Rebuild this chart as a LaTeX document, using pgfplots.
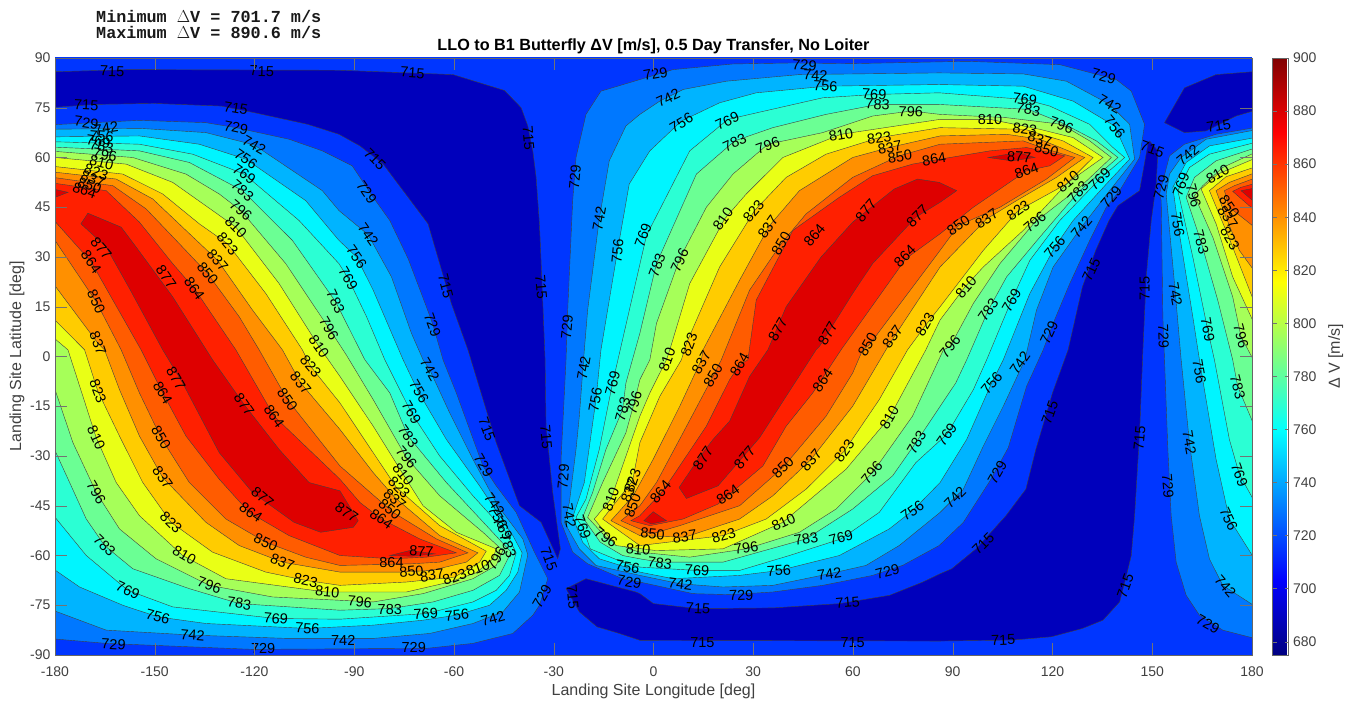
\documentclass[border=0pt]{standalone}
\usepackage{pgfplots}
\pgfplotsset{compat=1.18}
\usepackage{fontspec}
\setmainfont{Liberation Sans}
\newfontfamily\monof{Liberation Mono}
\definecolor{c688}{HTML}{0000BC}
\definecolor{c715}{HTML}{0036FF}
\definecolor{c729}{HTML}{0078FF}
\definecolor{c742}{HTML}{00B4FF}
\definecolor{c756}{HTML}{00F5FF}
\definecolor{c769}{HTML}{2BFFD4}
\definecolor{c783}{HTML}{6BFF94}
\definecolor{c796}{HTML}{A6FF59}
\definecolor{c810}{HTML}{E9FF16}
\definecolor{c823}{HTML}{FFCC00}
\definecolor{c837}{HTML}{FF9000}
\definecolor{c850}{HTML}{FF5C00}
\definecolor{c864}{HTML}{FF2000}
\definecolor{c877}{HTML}{DE0000}
\definecolor{axgray}{HTML}{404040}
\pgfplotsset{lev/.style={fill=#1,draw=black!75,line width=0.4pt}}
\newcommand{\CL}[4]{\node[rotate=#3,inner sep=0pt,text=black,font=\fontsize{14.5}{14.5}\selectfont] at (axis cs:#1,#2) {#4};}
\begin{document}
\begin{tikzpicture}
\path[use as bounding box] (0,0) rectangle (1348pt,704pt);
\begin{axis}[
  at={(55pt,49pt)},anchor=south west,
  scale only axis,width=1197pt,height=597pt,
  xmin=-180,xmax=180,ymin=-90,ymax=90,
  xtick={-180,-150,...,180},ytick={-90,-75,...,90},
  tick align=inside,major tick length=12pt,
  tick style={black!55,line width=0.4pt},
  axis line style={black!60,line width=0.6pt},
  axis on top,
  /pgf/number format/assume math mode=true,
  ticklabel style={text=axgray,font=\fontsize{14}{16}\selectfont},
  xticklabel style={yshift=-8pt},
  yticklabel style={xshift=-1pt},
  xlabel={Landing Site Longitude [deg]},
  ylabel={Landing Site Latitude [deg]},
  label style={text=axgray,font=\fontsize{16}{18}\selectfont},
  xlabel style={at={(axis description cs:0.5,0)},anchor=center,yshift=-36.5pt},
  ylabel style={at={(axis description cs:0,0.5)},anchor=center,yshift=38pt},
  title={LLO to B1 Butterfly ΔV [m/s], 0.5 Day Transfer, No Loiter},
  title style={at={(axis description cs:0.5,1)},anchor=south,yshift=-5pt,font=\bfseries\fontsize{16.2}{18}\selectfont,text=black},
  colormap/jet,point meta min=675,point meta max=900,
  colorbar,
  colorbar style={
    at={(parent axis.north east)},anchor=north west,xshift=12pt,
    width=16pt,
    ytick={680,700,...,900},
    tick align=inside,major tick length=4pt,
    tick style={black!55,line width=0.4pt},
    axis line style={black!60,line width=0.6pt},
    yticklabel pos=right,
    yticklabel style={text=axgray,xshift=1pt,font=\fontsize{14}{16}\selectfont,/pgf/number format/assume math mode=true,/pgf/number format/1000 sep={}},
    ylabel={Δ V [m/s]},
    ylabel style={text=axgray,font=\fontsize{16}{18}\selectfont,yshift=-5pt},
  },
]
% base band
\addplot[fill=c715,draw=none] coordinates {(-182,-92)(182,-92)(182,92)(-182,92)} --cycle;
% islands below 715
\addplot[lev=c688] coordinates {(-182,85.8)(-157.6,86.5)(-94.3,86.3)(-60.3,85)(-44.8,80.2)(-39.8,75)(-37.8,69.5)(-36.3,62)(-35.3,54)(-34.3,40)(-33.6,24)(-32.6,-1)(-32.3,-21)(-30.3,-41)(-29.1,-50)(-28,-58)(-28.8,-61)(-33.8,-50)(-40.3,-45)(-47.3,-26)(-55.8,2)(-60.8,16)(-67.8,40)(-73.8,48)(-81.3,58)(-88.3,63.5)(-94.6,67)(-104,70)(-120,73.5)(-130,75.5)(-150,76.3)(-168,76)(-182,75)} --cycle;
\addplot[lev=c688] coordinates {(-26.3,-70)(-20.3,-67)(-5.3,-71)(-4.1,-71.5)(0,-74.5)(13,-76)(36,-75.8)(56,-74.5)(71,-72)(81,-68)(86.2,-65.5)(89.7,-64)(97,-58)(106,-48)(112,-40)(115,-28)(120,-11)(124.7,2)(129,21)(133,32)(137,41)(139.7,45.5)(146.2,50)(148.7,64)(149.2,65)(151.7,62)(151.2,52)(149.7,41)(148.2,24)(147.2,2)(146.2,-23)(144.7,-48)(143.7,-60)(142,-67)(140.2,-74)(135.2,-79.5)(129,-82)(119.7,-84.5)(108,-85.5)(86,-85.8)(-4,-85.6)(-10.3,-83.5)(-17,-81.5)(-22.3,-77)} --cycle;
\addplot[lev=c688] coordinates {(153.7,70.5)(159.7,81)(169.2,85)(182,86)(182,74.5)(175.2,72.5)(166.2,68)(159.7,67.5)} --cycle;
% level 729
\addplot[lev=c729] coordinates {(-182,69.8)(-154.6,71.2)(-134.6,70.5)(-125.6,69)(-109.6,65.5)(-99.6,62)(-90.6,57.5)(-84.3,48)(-79.3,41)(-73.8,29.5)(-68.3,15)(-66.3,9.5)(-63.3,-1)(-59.3,-11)(-51.3,-33)(-47.3,-39)(-41.3,-47)(-35.8,-59)(-31.8,-67)(-34.3,-75)(-36.3,-78)(-42.3,-83.5)(-54.3,-86.5)(-68.3,-88)(-120.6,-88.3)(-164.6,-86.5)(-182,-85)} --cycle;
\addplot[lev=c729] coordinates {(-15.8,80)(-20.3,73)(-23.3,60)(-24.3,47)(-25.8,14)(-26.3,-1)(-27.8,-31)(-27.8,-50)(-24.3,-59)(-19.8,-62.5)(-9.3,-67)(-4.1,-68)(11.9,-71.5)(22.9,-71.8)(35.9,-71)(50.9,-69)(65.9,-66)(74.9,-63)(85.9,-57)(93.2,-50)(101.2,-37.5)(106.7,-27.5)(112.2,-9)(117.2,2)(120.2,10)(125.2,22)(131.2,35)(136.2,45)(140.2,50)(146.2,60)(147.7,70)(143.7,80)(139.2,83.5)(122.2,88)(94.2,89)(59.9,88.3)(41.9,88.5)(23.9,88.2)(5.9,86.5)(-4.1,83.5)} --cycle;
\addplot[lev=c729] coordinates {(182,69.2)(169.2,67)(159.7,64)(155.2,60.5)(152.2,49)(152.7,47)(153.2,12)(153.7,-1)(154.7,-28)(155.7,-48)(157.2,-62)(160.2,-72)(164.2,-78)(171.2,-82.5)(182,-85.3)} --cycle;
% level 742
\addplot[lev=c742] coordinates {(-182,68.5)(-154.6,68.8)(-134.6,67.5)(-120.1,63.8)(-99.6,50)(-94.6,44)(-85.8,36.7)(-78.8,24)(-72.8,7)(-69.3,-1)(-67.3,-4)(-61.3,-17)(-54.3,-31)(-46.8,-45)(-39.3,-55)(-37.8,-59.8)(-40.3,-71)(-45.3,-77)(-54.3,-80.5)(-67.3,-83.5)(-84.3,-85)(-110,-85)(-138.6,-84)(-164.6,-82.5)(-182,-76)} --cycle;
\addplot[lev=c742] coordinates {(-8.3,69.5)(-4.1,73)(1.9,77)(8.9,80.5)(21.9,83)(43.9,85)(85.9,85.5)(111.2,85.2)(124.2,83)(137.2,76)(143.2,70)(144.7,59.5)(137.2,50)(128.7,39)(120.2,27)(115.2,14)(111.7,-1)(105.2,-15)(99.2,-27)(93.2,-40)(90.7,-42.5)(86.2,-47)(73.9,-57)(63.9,-63)(52.9,-65.5)(35.9,-69)(20.9,-69.5)(7.9,-68.5)(-4.1,-66)(-17.3,-63)(-22.3,-58)(-26.8,-50)(-25.3,-44)(-23.3,-28)(-22.3,-18)(-20.8,2)(-19.8,14)(-16.3,41.5)(-13.3,59)} --cycle;
\addplot[lev=c742] coordinates {(182,68.5)(166.2,65.5)(158.7,60)(155.2,55)(154.2,49)(156.7,22)(158.7,-1)(161.2,-26)(164.2,-48)(167.2,-61)(171.2,-69)(182,-76)} --cycle;
% level 756
\addplot[lev=c756] coordinates {(-182,66.2)(-154.6,66.5)(-136.6,64)(-122.6,59.5)(-104.6,47)(-94.6,35)(-89.3,30)(-84.3,20)(-75.3,-1)(-70.8,-10.5)(-62.3,-25)(-52.3,-39)(-42.3,-54)(-39.5,-59.2)(-40.8,-65)(-44.3,-70.5)(-49.3,-75)(-59.3,-78)(-69.3,-79.5)(-84.3,-81)(-104.1,-82)(-134.6,-80.5)(-149.1,-78.5)(-159.6,-75)(-172.6,-69.5)(-182,-63)} --cycle;
\addplot[lev=c756] coordinates {(-10.8,32)(-7.3,52)(-1.1,62)(8.4,71)(19.9,76.5)(30.9,79.5)(51.9,81.5)(85.9,82)(111.2,81.5)(126.2,77)(138.7,69.5)(143.2,59.5)(136.2,52)(126.2,41)(120.7,33)(113.2,19)(105.2,-1)(101.7,-8)(94.2,-25)(86.2,-38)(77.9,-46.5)(70.9,-52)(55.9,-60)(37.9,-64.5)(25.9,-66)(5.9,-67)(-4.1,-65)(-8.3,-63.5)(-16.3,-61)(-21.3,-56)(-24.3,-48.5)(-20.8,-38)(-17.3,-13)(-15.8,2)} --cycle;
\addplot[lev=c756] coordinates {(182,66.2)(167.2,63.5)(160.2,58.5)(156.2,51)(157.7,40)(162.2,12)(164.2,-1)(169.2,-31)(173.2,-49)(182,-63)} --cycle;
% level 769
\addplot[lev=c769] coordinates {(-182,64.8)(-154.6,64)(-138.6,61)(-123.1,55)(-106.6,41)(-94.6,28)(-91.8,23.5)(-86.3,12)(-80.8,-1)(-72.8,-17)(-64.3,-30)(-54.3,-42)(-44.3,-53)(-41.3,-59.2)(-43.3,-66)(-47.3,-70.5)(-54.3,-74)(-68.3,-77.5)(-94.3,-79.2)(-113.6,-79)(-144.6,-75.5)(-158.1,-70.5)(-170.6,-60)(-182,-46)} --cycle;
\addplot[lev=c769] coordinates {(-12.3,-8)(-2.1,36.5)(10.9,62)(22.4,71.5)(50.9,78)(66.4,79)(85.9,79.5)(111.7,77.5)(119.2,75.5)(131.2,70)(138.2,63)(141.7,60)(134.2,53.5)(122.2,41)(113.2,29)(107.7,17)(100.2,-1)(96.2,-10)(88.2,-23.5)(78.9,-32)(67.9,-47)(56.4,-55)(40.9,-60)(25.9,-64.5)(12.9,-64.5)(-4.1,-63.5)(-9.3,-62)(-19,-58)(-21.3,-51.5)(-23.3,-48.5)(-20.3,-43)(-16.3,-28)} --cycle;
\addplot[lev=c769] coordinates {(182,64.8)(167.2,61)(161.2,57)(157.7,50)(162.2,30)(166.7,8)(168.7,-1)(173.2,-25)(176.2,-35.5)(182,-46)} --cycle;
% level 783
\addplot[lev=c783] coordinates {(-182,63.2)(-154.6,62)(-139.6,58.5)(-123.6,50)(-108.6,35)(-95.6,16.5)(-86.8,-1)(-79.3,-11)(-73.8,-24)(-62.3,-38)(-49.3,-52)(-42.8,-59)(-46.3,-66)(-54.3,-70.5)(-66.3,-74)(-79.3,-76)(-94.3,-76.5)(-124.6,-74.5)(-139.6,-70)(-156.6,-64)(-165.1,-57)(-170.6,-49)(-175.6,-38)(-182,-24)} --cycle;
\addplot[lev=c783] coordinates {(-9.3,-16)(-8.3,-8)(-4.1,7)(0.9,28)(12.9,55)(24.4,65)(35.9,69)(51.9,73)(67.4,76)(85.9,76)(112.7,74.5)(122.7,70.5)(133.2,65)(139.7,60)(127.7,49.5)(116.2,36)(106.2,24)(100.7,14)(94.2,-1)(90.9,-8)(78.9,-26)(71.9,-36)(59.9,-46)(45.9,-55)(20.9,-62)(1.9,-62)(-4.1,-61)(-9.3,-60)(-16,-56)(-21.3,-48.5)(-18.3,-41)(-14.3,-28)} --cycle;
\addplot[lev=c783] coordinates {(182,63.2)(169.2,59)(162.7,54)(160.2,48)(164.7,34.5)(169.7,17)(174.2,-1)(175.7,-9)(182,-24)} --cycle;
% level 796
\addplot[lev=c796] coordinates {(-182,62)(-156.6,60)(-140.6,55)(-130.6,49)(-124.1,44)(-110.6,28)(-97.6,8.5)(-92.4,0.5)(-84.3,-13)(-74.3,-30.5)(-64.3,-42)(-51.3,-53)(-45.3,-58.5)(-47.3,-63)(-54.3,-67)(-69.3,-71.5)(-84.3,-74)(-114.6,-72.5)(-133.6,-69)(-149.6,-61)(-160.6,-52)(-167.6,-41)(-174.6,-26)(-182,-4)} --cycle;
\addplot[lev=c796] coordinates {(-5.8,-14)(-8.3,-23)(-15.3,-38)(-19.8,-48.5)(-14.3,-54.5)(-7.3,-58)(-4.1,-59)(10.9,-60.5)(27.9,-58)(43.9,-53)(54.9,-46)(65.9,-35)(77.9,-18)(87.2,2)(89.2,3)(96.2,16)(104.2,28)(114.7,40.5)(128.2,51)(137.7,60)(131.2,65)(122.7,70)(106.2,72)(86.2,73)(77.4,74)(65.9,72.5)(50.9,67.5)(34.4,64)(23.9,55)(15.9,45)(7.9,29.5)(0.9,10)(-1.1,-1)(-4.1,-7)} --cycle;
\addplot[lev=c796] coordinates {(182,62)(171.2,57)(165.2,51.5)(162.7,48.5)(168.2,36)(174.2,18)(176.7,6)(182,-4)} --cycle;
% level 810
\addplot[lev=c810] coordinates {(-182,60.2)(-158.6,58)(-144.6,52.5)(-132.6,44)(-125.6,39)(-112.6,22)(-100.6,3)(-94.3,-6)(-84.3,-21)(-75.3,-35.5)(-69.3,-45)(-59.3,-53)(-47.3,-58)(-48.3,-61)(-53.3,-65.2)(-61.3,-68)(-74.3,-71)(-98.6,-71)(-128.6,-67)(-141.6,-60)(-154.6,-48)(-161.6,-38)(-167.6,-24.5)(-176.1,2)(-182,7)} --cycle;
\addplot[lev=c810] coordinates {(-17.8,-49)(-11.3,-57)(0.7,-58.5)(20.9,-58)(38.9,-50)(57.9,-34)(70.9,-18.5)(81.9,2)(86.2,11)(93.7,21)(99.2,27)(111.2,38)(124.7,52.5)(135.2,60)(126.2,66)(116.2,68.5)(101.2,71.5)(86.2,71.5)(56.4,67)(38.9,60)(27.9,49)(21.4,41.5)(10.9,22)(4.9,2)(3.9,-1)(-1.1,-11)(-4.1,-18)(-12.8,-43)} --cycle;
\addplot[lev=c810] coordinates {(182,60.2)(169.7,55)(164.7,50.5)(169.2,40)(174.2,24)(182,7)} --cycle;
% level 823
\addplot[lev=c823] coordinates {(-182,57.5)(-159.6,55)(-147.6,49)(-136.6,40)(-128.1,34)(-116.6,19)(-105.6,2)(-103.1,-3)(-94.3,-14)(-84.3,-29)(-77.3,-39.5)(-64.3,-51)(-50.3,-58.7)(-52.3,-62)(-59.8,-66.5)(-74.3,-68)(-94.3,-69)(-104.6,-67.5)(-116.6,-65)(-132.6,-59)(-145.1,-50)(-153.6,-38)(-160.6,-24)(-167.1,-10.5)(-171.1,2)(-182,13)} --cycle;
\addplot[lev=c823] coordinates {(-15.3,-49)(-4.1,-57)(20.9,-54)(33.9,-49)(45.9,-40)(57.4,-28.5)(67.9,-13)(76.4,2)(81.9,9.5)(86.2,15)(99.2,32)(109.7,44)(124.2,52)(132.2,60)(123.2,65)(111.7,68.5)(86.2,69)(67.9,66)(51.9,61)(39.9,54)(30.4,44)(19.9,27)(9.9,4)(8.4,-1)(1.9,-12)(-4.1,-26)(-6.3,-37.5)} --cycle;
\addplot[lev=c823] coordinates {(182,57.5)(172.2,54.2)(167.2,50)(173.2,35.5)(182,13)} --cycle;
% level 837
\addplot[lev=c837] coordinates {(-182,55.8)(-161.6,53.5)(-150.6,47.5)(-140.6,38)(-131.1,29)(-120.6,14)(-111.6,2)(-106.1,-8)(-94.3,-22)(-84.3,-35)(-77.8,-42.5)(-64.3,-54)(-52.8,-59.2)(-56.3,-62)(-66.8,-64.5)(-76.3,-65)(-94.3,-65)(-111.6,-62)(-124.6,-57)(-134.6,-50)(-147.6,-36.5)(-154.6,-24)(-160.6,-10)(-165.1,2)(-167.1,4)(-182,24)} --cycle;
\addplot[lev=c837] coordinates {(-12.8,-49.5)(-4.1,-54)(9.4,-54.5)(25.9,-49)(35.9,-42)(47.4,-31)(59.9,-15)(69.9,2)(72.4,6)(86.2,27)(100.2,41.5)(109.2,47)(121.2,54)(129.7,60)(116.2,65.5)(106.2,67)(86.2,66.5)(70.9,63)(59.9,60)(43.9,50)(34.9,39.5)(25.9,23)(14.9,2)(14.4,-1)(7.9,-15)(-0.1,-31)(-6.1,-42)} --cycle;
\addplot[lev=c837] coordinates {(182,55.8)(173.2,52.5)(169.2,50)(172.2,42)(176.2,32)(182,24)} --cycle;
% level 850
\addplot[lev=c850] coordinates {(-182,54.2)(-162.6,51.5)(-152.6,44.5)(-142.6,34)(-134.1,25)(-124.6,12)(-118.6,2)(-110.1,-13)(-94.3,-33)(-86.3,-40)(-78.3,-47)(-65.3,-55)(-55.8,-59.2)(-64.3,-62)(-72.8,-62.5)(-94.3,-63)(-104.6,-60.5)(-116.6,-56)(-128.6,-49)(-139.6,-38)(-148.1,-24.5)(-154.6,-11)(-160.1,2)(-167.6,16.5)(-182,38)} --cycle;
\addplot[lev=c850] coordinates {(-9.8,-49.5)(-4.1,-52)(-0.6,-53.5)(7.9,-51)(25.9,-45)(38.9,-33.5)(51.9,-18)(59.9,-5)(62.9,2)(64.9,3.5)(86.2,32)(91.7,39.5)(104.2,45)(118.2,53.5)(126.7,60)(118.2,62.5)(111.2,65)(86.2,64)(73.9,60.5)(59.9,54)(45.9,43)(38.4,34)(28.9,20)(20.4,-1)(17.9,-6)(8.9,-23)(0.9,-38)(-4.1,-45)} --cycle;
\addplot[lev=c850] coordinates {(182,54.2)(174.7,51.5)(171.7,50)(173.2,45)(182,38)} --cycle;
% level 864
\addplot[lev=c864] coordinates {(-182,52.5)(-164.6,50)(-154.6,40.5)(-144.6,28)(-138.1,20.5)(-125.6,2)(-114.1,-18)(-94.3,-37)(-88.3,-44)(-81.8,-49)(-70.3,-55)(-59.3,-59.2)(-68.3,-60.5)(-78.8,-61)(-94.3,-60)(-109.6,-54)(-121.6,-47)(-130.6,-37)(-140.6,-24)(-147.6,-11)(-154.1,2)(-169.1,28.5)(-182,43)} --cycle;
\addplot[lev=c864] coordinates {(-6.8,-49.5)(-1.1,-51)(8.9,-49)(19.4,-44.5)(32.9,-33)(39.9,-21)(47.9,-11)(56.4,2)(75.9,29.5)(86.2,37)(96.2,45)(112.2,56)(119.2,57.5)(123.7,60.5)(112.2,63)(101.2,62)(86.2,59.5)(77.9,58)(65.9,54.5)(55.9,48)(41.9,38)(30.9,17)(28.4,-1)(25.9,-2.5)(22.9,-7)(15.9,-21)(5.9,-36)(2.4,-41)(-4.1,-48)} --cycle;
\addplot[lev=c864] coordinates {(182,52.5)(176.7,51)(174.2,49.8)(182,43)} --cycle;
% level 877
\addplot[lev=c877] coordinates {(-172.2,40)(-170.1,43.2)(-160.1,39)(-155.6,33)(-144.6,18)(-132.6,-1)(-123.1,-14.5)(-112.6,-28)(-103.6,-38)(-94.3,-40.5)(-88.8,-49.5)(-90.3,-51.5)(-100.1,-53)(-108.1,-50)(-120.6,-41)(-130.6,-29)(-141.6,-8)(-147.6,2)(-157.6,20.5)(-164.6,33)} --cycle;
\addplot[lev=c877] coordinates {(-79.3,-60)(-73.3,-58.5)(-65.8,-59.5)(-72.8,-60.2)} --cycle;
\addplot[lev=c877] coordinates {(-182,50.8)(-176.1,49.5)(-182,47.2)} --cycle;
\addplot[lev=c877] coordinates {(79.4,53.5)(85.9,52.5)(91.2,50)(86.2,46.5)(78.9,42)(65.9,28)(59.9,19)(49.9,3)(48.9,2)(39.9,-12)(31.9,-24.5)(19.4,-39)(9.9,-42.8)(7.7,-39.5)(13.4,-31)(17.9,-25)(22.9,-19.5)(28.9,-6)(34.4,2)(39.9,15)(50.4,30)(59.9,40.5)(72.4,50.5)} --cycle;
\addplot[lev=c877] coordinates {(-0.1,-46.8)(3.9,-49.5)(-0.6,-50.5)(-2.9,-49.5)} --cycle;
\addplot[lev=c877] coordinates {(100.7,60)(109.7,61.5)(114.7,60)(107.7,59)} --cycle;
\addplot[lev=c877] coordinates {(182,51)(176.7,50)(182,45.5)} --cycle;
% contour labels
\CL{-162.8}{86}{-2}{715}\CL{-117.8}{86}{-1}{715}\CL{-72.5}{85.5}{-4}{715}
\CL{-170.6}{75.8}{-3}{715}\CL{-170.6}{70.5}{-8}{729}\CL{-164.6}{68.8}{8}{742}
\CL{-166}{66.4}{-5}{756}\CL{-167}{64.8}{-8}{769}\CL{-166}{63.3}{-8}{783}\CL{-165}{60.8}{-10}{796}
\CL{-166}{58.5}{-15}{810}\CL{-167.6}{55.5}{-20}{823}\CL{-168.6}{53.5}{-20}{837}\CL{-169.6}{51.5}{-20}{850}\CL{-171.1}{50}{-20}{864}
\CL{-125.6}{74.8}{-10}{715}\CL{-125.6}{69}{-12}{729}\CL{-120.1}{63.8}{-30}{742}\CL{-122.6}{59.5}{-35}{756}\CL{-123.1}{55}{-35}{769}
\CL{-123.6}{50}{-40}{783}\CL{-124.1}{44}{-40}{796}\CL{-125.6}{39}{-45}{810}\CL{-128.1}{34}{-50}{823}\CL{-131.1}{29}{-50}{837}\CL{-134.1}{25}{-50}{850}\CL{-138.1}{20.5}{-55}{864}
\CL{-146.6}{24}{-55}{877}\CL{-166.1}{32.5}{-50}{877}\CL{-169.1}{28.5}{-55}{864}\CL{-167.6}{16.5}{-65}{850}\CL{-167.1}{4}{-70}{837}
\CL{-95.6}{16.5}{-65}{783}\CL{-97.6}{8.5}{-60}{796}\CL{-100.6}{3}{-55}{810}
\CL{-143.6}{-6.5}{-60}{877}\CL{-123.1}{-14.5}{-55}{877}\CL{-147.6}{-11}{-60}{864}\CL{-114.1}{-18}{-55}{864}\CL{-110.1}{-13}{-55}{850}\CL{-106.1}{-8}{-50}{837}\CL{-103.1}{-3}{-50}{823}
\CL{-167.1}{-10.5}{-70}{823}\CL{-167.6}{-24.5}{-65}{810}\CL{-148.1}{-24.5}{-60}{850}\CL{-147.6}{-36.5}{-55}{837}\CL{-167.6}{-41}{-60}{796}
\CL{-117.6}{-42.5}{-40}{877}\CL{-121.1}{-47}{-35}{864}\CL{-145.1}{-50}{-45}{823}\CL{-116.6}{-56}{-25}{850}\CL{-165.1}{-57}{-45}{783}\CL{-141.1}{-60}{-30}{810}
\CL{-111.6}{-62}{-20}{837}\CL{-104.6}{-67.5}{-12}{823}\CL{-133.6}{-69}{-20}{796}\CL{-158.1}{-70.5}{-25}{769}\CL{-98.1}{-71}{-5}{810}\CL{-124.6}{-74.5}{-8}{783}
\CL{-149.1}{-78.5}{-15}{756}\CL{-113.6}{-79}{-5}{769}\CL{-104.1}{-82}{-3}{756}\CL{-138.6}{-84}{-5}{742}\CL{-162.4}{-86.8}{-3}{729}\CL{-117.4}{-88}{0}{729}
\CL{-83.8}{59.5}{-45}{715}\CL{-86.3}{49.5}{-55}{729}\CL{-85.8}{36.7}{-55}{742}\CL{-89.3}{30}{-55}{756}\CL{-91.8}{23.5}{-60}{769}
\CL{-62.5}{21.2}{-75}{715}\CL{-66.5}{9.5}{-70}{729}\CL{-37.6}{65.8}{-85}{715}\CL{-33.8}{20.8}{-85}{715}\CL{-23.6}{54}{85}{729}\CL{-26}{8.8}{85}{729}\CL{-16.3}{41.5}{80}{742}\CL{-10.8}{31.8}{85}{756}
\CL{-67.3}{-4}{-60}{742}\CL{-70.5}{-10.5}{-60}{756}\CL{-72.8}{-17}{-60}{769}\CL{-73.8}{-24}{-55}{783}\CL{-74.3}{-30.5}{-50}{796}\CL{-75.3}{-35.5}{-50}{810}
\CL{-76.5}{-39.5}{-45}{823}\CL{-77.8}{-43}{-40}{837}\CL{-79.3}{-46}{-40}{850}\CL{-81.8}{-49}{-35}{864}\CL{-92.3}{-47}{-35}{877}
\CL{-50.1}{-22}{-70}{715}\CL{-51.1}{-33}{-60}{729}\CL{-47.8}{-44.5}{-55}{742}\CL{-46.8}{-48.5}{-60}{756}\CL{-45.3}{-52}{-60}{769}\CL{-43.8}{-57}{-70}{783}\CL{-47.3}{-61}{60}{796}
\CL{-52.8}{-63.8}{20}{810}\CL{-59.8}{-66.5}{20}{823}\CL{-66.6}{-66}{8}{837}\CL{-72.8}{-64.8}{5}{850}\CL{-78.8}{-62}{0}{864}\CL{-69.8}{-58.8}{-3}{877}
\CL{-88.3}{-74}{-5}{796}\CL{-79.3}{-76.2}{0}{783}\CL{-68.5}{-77.5}{3}{769}\CL{-59.1}{-78}{5}{756}\CL{-48.3}{-79}{15}{742}\CL{-33.5}{-72.5}{60}{729}\CL{-72.1}{-87.7}{0}{729}\CL{-93.3}{-85.5}{0}{742}
\CL{-31.5}{-61}{-70}{715}\CL{-24.3}{-72.5}{-85}{715}\CL{-32.3}{-24.2}{-85}{715}\CL{-27.1}{-36.2}{85}{729}\CL{-25.3}{-48}{-80}{742}\CL{-21}{-3.5}{80}{742}
\CL{-17.5}{-13}{80}{756}\CL{-12.3}{-8}{75}{769}\CL{-9.3}{-16}{75}{783}\CL{-5.8}{-14}{75}{796}\CL{-21.3}{-51.5}{-70}{769}\CL{-14.3}{-54.5}{-35}{796}
\CL{-12.8}{-43}{70}{810}\CL{-6.3}{-37.5}{70}{823}\CL{-7.3}{-40.5}{70}{837}\CL{-6.3}{-45}{70}{850}\CL{-7.8}{-63.5}{-10}{756}\CL{-7.3}{-68}{-10}{729}
\CL{1.9}{-62.2}{-8}{783}\CL{-4.6}{-58.2}{-5}{810}\CL{-0.3}{-53.5}{-5}{850}\CL{9.4}{-54.3}{8}{837}\CL{21.1}{-54}{15}{823}\CL{27.9}{-57.7}{10}{796}\CL{39.1}{-50}{25}{810}
\CL{13.1}{-64.5}{-3}{769}\CL{8.1}{-68.5}{-8}{742}\CL{26.4}{-72}{2}{729}\CL{13.4}{-76}{-3}{715}\CL{37.7}{-64.5}{3}{756}\CL{45.9}{-55}{10}{783}\CL{56.4}{-54.7}{15}{769}\CL{52.9}{-65.5}{8}{742}\CL{70.4}{-64.8}{15}{729}\CL{77.9}{-46.5}{35}{756}
\CL{58.4}{-74.2}{5}{715}\CL{14.7}{-86.2}{0}{715}\CL{59.9}{-86.2}{0}{715}\CL{2.1}{-40.8}{50}{864}\CL{14.9}{-30.7}{55}{877}\CL{27.4}{-30.5}{50}{877}\CL{22.4}{-41.7}{35}{864}
\CL{38.9}{-33.5}{45}{850}\CL{47.4}{-31.2}{50}{837}\CL{57.4}{-28.5}{55}{823}\CL{65.7}{-35}{50}{796}\CL{70.9}{-18.5}{60}{810}\CL{79.1}{-26}{60}{783}\CL{50.9}{-7.2}{55}{864}
\CL{25.9}{-2.5}{60}{864}\CL{17.9}{-5.8}{60}{850}\CL{14.4}{-1.8}{60}{837}\CL{4.1}{-1}{70}{810}
\CL{0.6}{85.2}{10}{729}\CL{4.4}{78}{25}{742}\CL{8.4}{70.5}{30}{756}\CL{22.2}{71}{25}{769}\CL{24.4}{64.5}{25}{783}\CL{34.4}{63.7}{20}{796}\CL{56.4}{66.8}{10}{810}\CL{67.9}{65.8}{8}{823}\CL{71.1}{63}{10}{837}\CL{74.1}{60.3}{8}{850}\CL{84.4}{59.5}{10}{864}
\CL{45.4}{87.8}{-5}{729}\CL{48.7}{84.8}{-3}{742}\CL{51.7}{81.5}{-3}{756}\CL{66.4}{79}{-3}{769}\CL{67.4}{76}{-3}{783}\CL{77.4}{73.8}{-3}{796}
\CL{20.9}{41.5}{55}{810}\CL{30.1}{43.8}{50}{823}\CL{34.4}{39}{55}{837}\CL{38.4}{34}{60}{850}\CL{48.4}{36.5}{50}{864}\CL{63.9}{44}{50}{877}\CL{79.4}{42.3}{45}{877}\CL{75.6}{30.3}{45}{864}
\CL{7.9}{29}{65}{796}\CL{1.1}{27.5}{70}{783}\CL{-3.1}{36.5}{70}{769}\CL{37.4}{8.2}{60}{877}\CL{52.4}{7}{60}{877}\CL{64.4}{3.5}{60}{850}\CL{71.9}{6}{55}{837}\CL{81.7}{9.5}{60}{823}\CL{10.7}{3.5}{70}{823}
\CL{135.4}{84.5}{-15}{729}\CL{137.2}{76}{-30}{742}\CL{138.7}{69.2}{-50}{756}\CL{111.7}{77.5}{-8}{769}\CL{112.7}{74.5}{-10}{783}\CL{122.7}{69.8}{-20}{796}\CL{101.2}{71.5}{0}{810}
\CL{111.7}{68.5}{-8}{823}\CL{116.2}{65.5}{-15}{837}\CL{118.2}{62.3}{-15}{850}\CL{110}{60.2}{-3}{877}\CL{112.2}{56}{20}{864}\CL{124.7}{52.7}{40}{810}\CL{127.7}{49.5}{50}{783}\CL{134.2}{53.5}{45}{769}
\CL{137.7}{48}{50}{729}\CL{128.7}{39}{50}{742}\CL{120.7}{33}{50}{756}\CL{131.7}{26.2}{65}{715}\CL{107.7}{17}{60}{769}\CL{100.7}{14}{55}{783}\CL{94}{20.8}{50}{810}\CL{114.7}{40.5}{40}{796}\CL{109.7}{44}{35}{823}\CL{100.2}{41.5}{35}{837}\CL{91.7}{39.5}{35}{850}
\CL{119}{7.2}{65}{729}\CL{89.2}{3}{50}{796}\CL{150}{62.5}{-20}{715}\CL{170}{69.5}{10}{715}\CL{160.7}{60.8}{40}{742}\CL{158.7}{51.8}{70}{769}\CL{152.7}{51}{75}{729}\CL{162.4}{48.5}{-75}{796}\CL{169.7}{55}{30}{810}
\CL{173.2}{45.2}{-55}{850}\CL{172.7}{42}{-55}{837}\CL{173.4}{35.5}{-60}{823}\CL{157.7}{39.8}{-80}{756}\CL{164.7}{34.5}{-75}{783}\CL{157}{18.8}{-80}{742}\CL{166.7}{8}{-80}{769}\CL{176.7}{6.2}{-75}{796}\CL{153.4}{6}{-88}{729}\CL{147.7}{20.5}{90}{715}
\CL{101.7}{-8}{50}{756}\CL{110.2}{-2}{55}{742}\CL{88.2}{-23.5}{55}{769}\CL{90.7}{-42.5}{45}{742}\CL{103.4}{-35}{60}{729}\CL{119.2}{-17}{70}{715}\CL{99.2}{-56.5}{45}{715}\CL{105.2}{-85.5}{2}{715}\CL{146.2}{-24.5}{85}{715}
\CL{164.2}{-4.5}{-80}{756}\CL{175.7}{-9.2}{-75}{783}\CL{161.2}{-26}{-80}{742}\CL{176.2}{-35.7}{-70}{769}\CL{154.7}{-39}{-85}{729}\CL{173}{-49}{-65}{756}\CL{172}{-69.2}{-50}{742}\CL{166.7}{-80.7}{-30}{729}\CL{141.9}{-69.2}{70}{715}
\end{axis}
\node[anchor=west,inner sep=0pt,text=black!90] at (96pt,687pt) {\monof\bfseries\fontsize{16.8}{18}\selectfont Minimum $\Delta$V = 701.7 m/s};
\node[anchor=west,inner sep=0pt,text=black!90] at (96pt,671pt) {\monof\bfseries\fontsize{16.8}{18}\selectfont Maximum $\Delta$V = 890.6 m/s};
\end{tikzpicture}
\end{document}
